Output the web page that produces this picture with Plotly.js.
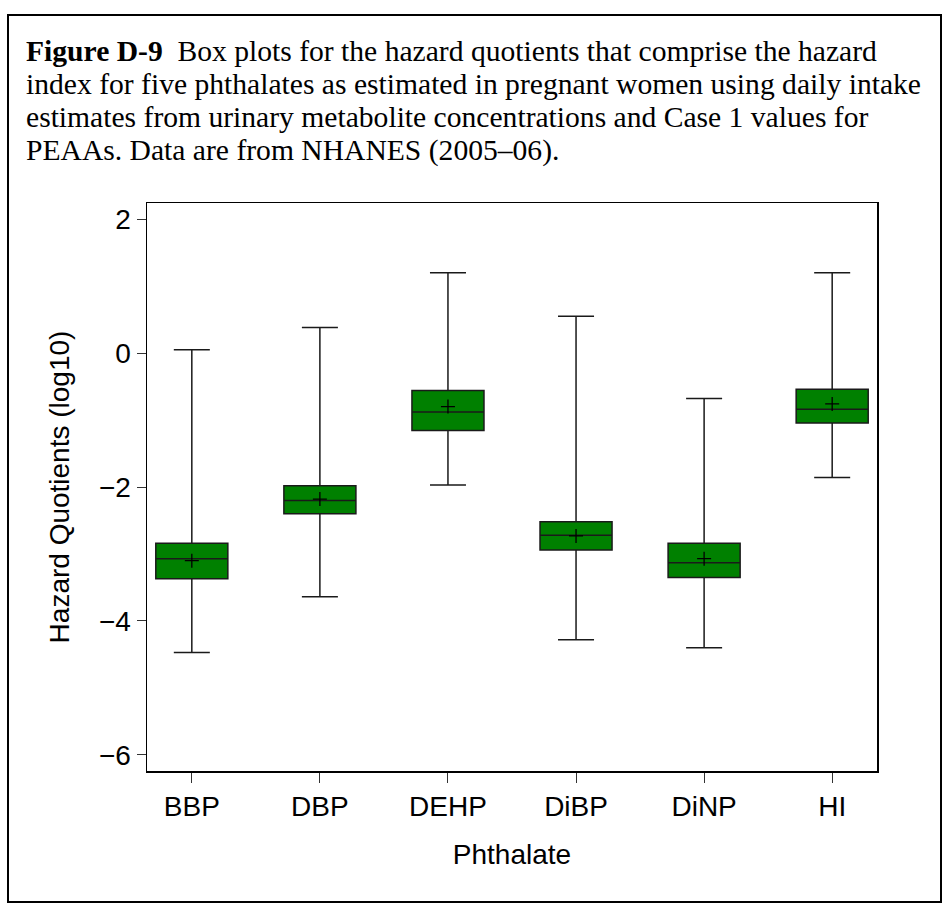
<!DOCTYPE html>
<html>
<head>
<meta charset="utf-8">
<script src="https://cdn.plot.ly/plotly-3.0.1.min.js"></script>
<style>
  html, body { margin: 0; padding: 0; background: #fff; }
  #wrap { position: relative; width: 949px; height: 907px; }
  #chart { position: absolute; left: 0; top: 0; width: 949px; height: 907px; }
  #frame { position: absolute; left: 7px; top: 14px; width: 931px; height: 885px;
           border: 2px solid #000; pointer-events: none; }
</style>
</head>
<body>
<div id="wrap">
  <div id="chart"></div>
  <div id="frame"></div>
</div>
<script>
// Data (log10 hazard quotients)
const categories = ["BBP", "DBP", "DEHP", "DiBP", "DiNP", "HI"];
const upperWhisker = [0.05, 0.38, 1.20, 0.55, -0.68, 1.20];
const q3Values     = [-2.84, -1.98, -0.56, -2.52, -2.84, -0.54];
const medianValues = [-3.07, -2.20, -0.88, -2.72, -3.13, -0.84];
const q1Values     = [-3.37, -2.40, -1.155, -2.94, -3.35, -1.045];
const lowerWhisker = [-4.47, -3.64, -1.97, -4.28, -4.40, -1.86];
const meanValues   = [-3.10, -2.18, -0.80, -2.73, -3.07, -0.76];
const yTickValues  = [-6, -4, -2, 0, 2];

const titleLines = [
  "<b>Figure D-9</b>  Box plots for the hazard quotients that comprise the hazard",
  "index for five phthalates as estimated in pregnant women using daily intake",
  "estimates from urinary metabolite concentrations and Case 1 values for",
  "PEAAs. Data are from NHANES (2005\u201306)."
];

const sans = "Liberation Sans, Arial, Helvetica, sans-serif";
const serif = "Liberation Serif, Times New Roman, serif";

const boxTrace = {
  type: "box",
  x: categories,
  q1: q1Values,
  median: medianValues,
  q3: q3Values,
  lowerfence: lowerWhisker,
  upperfence: upperWhisker,
  boxpoints: false,
  fillcolor: "#008000",
  line: { color: "#1a1a1a", width: 1.5 },
  width: 0.5625,
  whiskerwidth: 0.5,
  hoverinfo: "skip",
  showlegend: false
};

const meanTrace = {
  type: "scatter",
  mode: "markers",
  x: categories,
  y: meanValues,
  marker: { symbol: "cross-thin", size: 10, color: "#000", line: { color: "#000", width: 1.3 } },
  hoverinfo: "skip",
  showlegend: false
};

// plot area in pixels: left 147, right 877, top 203, bottom 771
const plotL = 147, plotR = 877, plotT = 203, plotB = 771;
const pw = plotR - plotL, ph = plotB - plotT;
function px(x) { return (x - plotL) / pw; }
function py(y) { return (plotB - y) / ph; }

const lineY = [33, 66, 99, 132];
const annotations = titleLines.map((t, i) => ({
  text: t,
  xref: "paper", yref: "paper",
  x: px(24), y: py(lineY[i]),
  xanchor: "left", yanchor: "top",
  align: "left",
  showarrow: false,
  font: { family: serif, size: 29.6, color: "#000" }
}));

const layout = {
  width: 949,
  height: 907,
  margin: { l: plotL, r: 949 - plotR, t: plotT, b: 907 - plotB, pad: 0 },
  paper_bgcolor: "#fff",
  plot_bgcolor: "#fff",
  showlegend: false,
  font: { family: sans, color: "#000" },
  xaxis: {
    type: "category",
    range: [-0.35, 5.35],
    showline: true, mirror: true, linecolor: "#000", linewidth: 1.5,
    ticks: "outside", ticklen: 10, tickwidth: 1, tickcolor: "#333",
    showgrid: false, zeroline: false,
    tickfont: { family: sans, size: 28, color: "#000" },
    title: { text: "Phthalate", font: { family: sans, size: 28, color: "#000" }, standoff: 23 }
  },
  yaxis: {
    range: [-6.24, 2.24],
    tickvals: yTickValues,
    showline: true, mirror: true, linecolor: "#000", linewidth: 1.5,
    ticks: "outside", ticklen: 9, tickwidth: 1, tickcolor: "#333",
    showgrid: false, zeroline: false,
    tickfont: { family: sans, size: 28, color: "#000" },
    title: { text: "Hazard Quotients (log10)", font: { family: sans, size: 28, color: "#000" }, standoff: 21 }
  },
  annotations: annotations
};

Plotly.newPlot("chart", [boxTrace, meanTrace], layout, { staticPlot: true, displayModeBar: false });
</script>
</body>
</html>
